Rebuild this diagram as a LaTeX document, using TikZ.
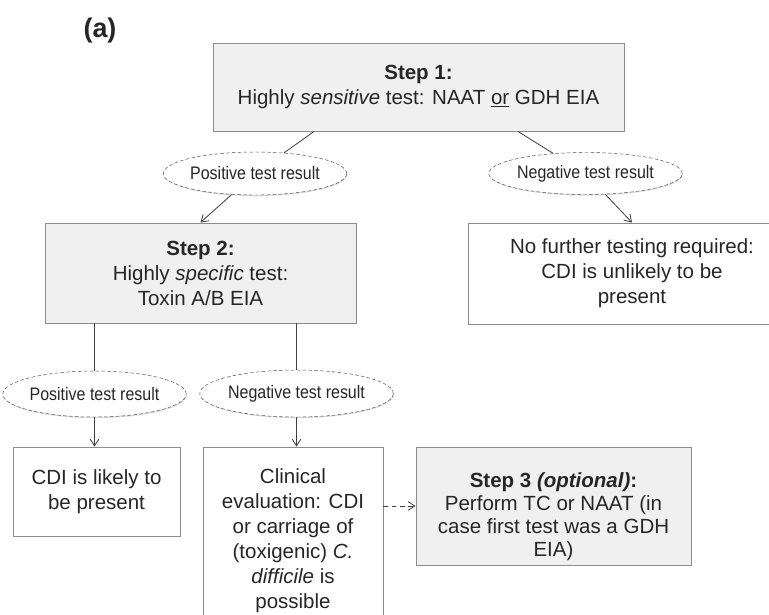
\documentclass[tikz,border=0pt]{standalone}
\usepackage{fontspec}
\setmainfont{Liberation Sans}
\newfontfamily\narrowfont{Liberation Sans}[FakeStretch=0.88]
\usetikzlibrary{shapes.geometric,arrows.meta,shadows}
\newlength\pxl
\setlength\pxl{0.03cm}
\tikzset{
    box/.style={draw=black!45, line width=0.8pt, align=center, text=black!85, inner sep=0pt,
        font=\fontsize{17.5}{21.3}\selectfont,
        drop shadow={shadow xshift=0.5pt, shadow yshift=-0.9pt, fill=black!35}},
    stepbox/.style={box, fill=black!6},
    plainbox/.style={box, fill=white},
    result/.style={ellipse, draw=black!70, densely dashed, fill=white, inner sep=0pt, text=black!85,
        font=\narrowfont\fontsize{15.5}{18}\selectfont,
        drop shadow={shadow xshift=0.5pt, shadow yshift=-0.9pt, fill=black!30}},
    link/.style={draw=black!75, line width=0.7pt},
    arrow/.style={link, -{Straight Barb[length=0.2cm, width=0.26cm]}},
}
\begin{document}
\begin{tikzpicture}[x=0.03cm, y=-0.03cm]
    \useasboundingbox (0,0) rectangle (769,614);
    \clip (0,0) rectangle (769,614);
    \node[font=\fontsize{23}{27}\selectfont\bfseries, text=black!85] (tag) at (100,31) {(a)};
    \node[stepbox, minimum width=411\pxl, minimum height=88\pxl] (step1) at (418.5,87)
        {\textbf{Step 1:}\\Highly \textit{sensitive} test: NAAT \underline{or} GDH EIA};
    \node[result, minimum width=164\pxl, minimum height=43\pxl] (pos1) at (255,173.5) {Positive test result};
    \node[result, minimum width=165\pxl, minimum height=42\pxl] (neg1) at (585.5,173.5) {Negative test result};
    \node[stepbox, minimum width=311\pxl, minimum height=100\pxl] (step2) at (200.5,273)
        {\textbf{Step 2:}\\Highly \textit{specific} test:\\Toxin A/B EIA};
    \node[plainbox, minimum width=328\pxl, minimum height=101\pxl] (nofurther) at (632,273.5)
        {No further testing required:\\CDI is unlikely to be\\present};
    \node[result, minimum width=165\pxl, minimum height=46\pxl] (pos2) at (94.5,394) {Positive test result};
    \node[result, minimum width=167\pxl, minimum height=47\pxl] (neg2) at (296.5,393.5) {Negative test result};
    \node[plainbox, minimum width=167\pxl, minimum height=89\pxl] (likely) at (96.5,491.5)
        {CDI is likely to\\be present};
    \node[plainbox, minimum width=180\pxl, minimum height=188\pxl] (clinical) at (293,541)
        {Clinical\\evaluation: CDI\\or carriage of\\(toxigenic) \textit{C.}\\\textit{difficile} is\\possible};
    \node[stepbox, minimum width=275\pxl, minimum height=118\pxl, font=\fontsize{17.5}{19.6}\selectfont] (step3) at (553.5,506)
        {\rule{0pt}{36\pxl}\textbf{Step 3 \textit{(optional)}:}\\Perform TC or NAAT (in\\case first test was a GDH\\EIA)};
    \draw[link] ([xshift=-104.5\pxl]step1.south) -- (pos1);
    \draw[link] ([xshift=99.5\pxl]step1.south) -- (neg1);
    \draw[arrow] (pos1) -- (step2.north);
    \draw[arrow] (neg1) -- (nofurther.north);
    \draw[link] (pos2 |- step2.south) -- (pos2);
    \draw[link] (neg2 |- step2.south) -- (neg2);
    \draw[arrow] (pos2) -- (pos2 |- likely.north);
    \draw[arrow] (neg2) -- (neg2 |- clinical.north);
    \draw[arrow, dash pattern=on 4pt off 3pt] (clinical.east |- step3.west) -- (step3.west);
\end{tikzpicture}
\end{document}
